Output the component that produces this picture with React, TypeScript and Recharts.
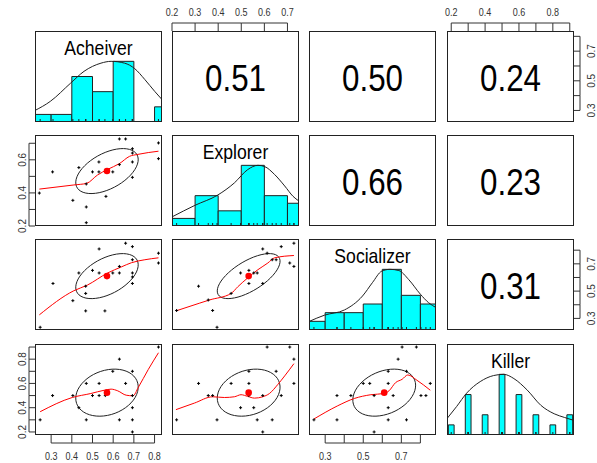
import React from 'react';
import { ComposedChart, XAxis, YAxis, Scatter, Line, ReferenceArea } from 'recharts';

const FONT = '"Liberation Sans", Arial, sans-serif';

// variables and their plotting ranges
const NAMES = ['Acheiver', 'Explorer', 'Socializer', 'Killer'];
const RANGES: [number, number][] = [
  [0.222, 0.836],
  [0.2, 0.75],
  [0.215, 0.882],
  [0.175, 0.925],
];
const MEANS = [0.57, 0.532, 0.61, 0.524];
const SDS = [0.151, 0.136, 0.165, 0.194];

// correlations, key = `${xVar}${yVar}`
const CORR: Record<string, number> = {
  '01': 0.51,
  '02': 0.5,
  '03': 0.24,
  '12': 0.66,
  '13': 0.23,
  '23': 0.31,
};

// histogram bins
const ACH_HIST = [
  { lo: 0.2, hi: 0.3, n: 1 },
  { lo: 0.3, hi: 0.4, n: 1 },
  { lo: 0.4, hi: 0.5, n: 6 },
  { lo: 0.5, hi: 0.6, n: 4 },
  { lo: 0.6, hi: 0.7, n: 8 },
  { lo: 0.7, hi: 0.8, n: 0 },
  { lo: 0.8, hi: 0.9, n: 2 },
];
const EXP_HIST = [
  { lo: 0.2, hi: 0.3, n: 1 },
  { lo: 0.3, hi: 0.4, n: 4 },
  { lo: 0.4, hi: 0.5, n: 2 },
  { lo: 0.5, hi: 0.6, n: 8 },
  { lo: 0.6, hi: 0.7, n: 4 },
  { lo: 0.7, hi: 0.8, n: 3 },
];
const SOC_HIST = [
  { lo: 0.2, hi: 0.3, n: 1 },
  { lo: 0.3, hi: 0.4, n: 2 },
  { lo: 0.4, hi: 0.5, n: 2 },
  { lo: 0.5, hi: 0.6, n: 3 },
  { lo: 0.6, hi: 0.7, n: 7 },
  { lo: 0.7, hi: 0.8, n: 4 },
  { lo: 0.8, hi: 0.9, n: 3 },
];
const KIL_HIST = [
  { lo: 0.183, hi: 0.217, n: 1 },
  { lo: 0.283, hi: 0.317, n: 4 },
  { lo: 0.383, hi: 0.417, n: 2 },
  { lo: 0.483, hi: 0.517, n: 6 },
  { lo: 0.583, hi: 0.617, n: 4 },
  { lo: 0.683, hi: 0.717, n: 2 },
  { lo: 0.783, hi: 0.817, n: 1 },
  { lo: 0.883, hi: 0.917, n: 2 },
];

// density curves (scaled to max 1)
const ACH_DENS = [
  { x: 0.222, y: 0.19 }, { x: 0.296, y: 0.34 }, { x: 0.394, y: 0.64 }, { x: 0.459, y: 0.835 },
  { x: 0.541, y: 0.97 }, { x: 0.59, y: 1.0 }, { x: 0.655, y: 0.97 }, { x: 0.704, y: 0.88 },
  { x: 0.753, y: 0.7 }, { x: 0.802, y: 0.5 }, { x: 0.836, y: 0.37 },
];
const EXP_DENS = [
  { x: 0.2, y: 0.15 }, { x: 0.299, y: 0.34 }, { x: 0.398, y: 0.51 }, { x: 0.47, y: 0.71 },
  { x: 0.528, y: 0.93 }, { x: 0.572, y: 1.0 }, { x: 0.601, y: 0.98 }, { x: 0.644, y: 0.85 },
  { x: 0.688, y: 0.66 }, { x: 0.724, y: 0.49 }, { x: 0.75, y: 0.41 },
];
const SOC_DENS = [
  { x: 0.215, y: 0.14 }, { x: 0.297, y: 0.245 }, { x: 0.401, y: 0.33 }, { x: 0.496, y: 0.56 },
  { x: 0.548, y: 0.78 }, { x: 0.597, y: 0.97 }, { x: 0.64, y: 1.0 }, { x: 0.687, y: 0.98 },
  { x: 0.739, y: 0.83 }, { x: 0.8, y: 0.59 }, { x: 0.843, y: 0.45 }, { x: 0.882, y: 0.37 },
];
const KIL_DENS = [
  { x: 0.175, y: 0.27 }, { x: 0.232, y: 0.47 }, { x: 0.291, y: 0.69 }, { x: 0.371, y: 0.88 },
  { x: 0.45, y: 0.98 }, { x: 0.51, y: 1.0 }, { x: 0.57, y: 0.93 }, { x: 0.649, y: 0.74 },
  { x: 0.729, y: 0.49 }, { x: 0.808, y: 0.35 }, { x: 0.868, y: 0.29 }, { x: 0.925, y: 0.24 },
];

// scatter points, x var first
const ACH_EXP = [
  { x: 0.243, y: 0.399 }, { x: 0.307, y: 0.527 }, { x: 0.405, y: 0.355 }, { x: 0.434, y: 0.553 },
  { x: 0.47, y: 0.315 }, { x: 0.47, y: 0.22 }, { x: 0.47, y: 0.454 }, { x: 0.5, y: 0.527 },
  { x: 0.531, y: 0.587 }, { x: 0.531, y: 0.527 }, { x: 0.565, y: 0.379 }, { x: 0.598, y: 0.527 },
  { x: 0.63, y: 0.571 }, { x: 0.63, y: 0.726 }, { x: 0.66, y: 0.726 }, { x: 0.693, y: 0.667 },
  { x: 0.693, y: 0.641 }, { x: 0.693, y: 0.587 }, { x: 0.693, y: 0.494 }, { x: 0.819, y: 0.702 },
  { x: 0.819, y: 0.607 },
];
const ACH_SOC = [
  { x: 0.247, y: 0.235 }, { x: 0.309, y: 0.556 }, { x: 0.405, y: 0.43 }, { x: 0.434, y: 0.633 },
  { x: 0.467, y: 0.536 }, { x: 0.467, y: 0.483 }, { x: 0.467, y: 0.355 }, { x: 0.5, y: 0.652 },
  { x: 0.532, y: 0.809 }, { x: 0.532, y: 0.633 }, { x: 0.56, y: 0.355 }, { x: 0.598, y: 0.633 },
  { x: 0.63, y: 0.681 }, { x: 0.63, y: 0.633 }, { x: 0.66, y: 0.851 }, { x: 0.693, y: 0.826 },
  { x: 0.693, y: 0.73 }, { x: 0.693, y: 0.633 }, { x: 0.693, y: 0.604 }, { x: 0.693, y: 0.556 },
  { x: 0.819, y: 0.778 }, { x: 0.819, y: 0.706 },
];
const ACH_KIL = [
  { x: 0.247, y: 0.3 }, { x: 0.307, y: 0.5 }, { x: 0.405, y: 0.5 }, { x: 0.434, y: 0.4 },
  { x: 0.47, y: 0.6 }, { x: 0.47, y: 0.3 }, { x: 0.5, y: 0.5 }, { x: 0.532, y: 0.6 },
  { x: 0.532, y: 0.5 }, { x: 0.562, y: 0.5 }, { x: 0.598, y: 0.7 }, { x: 0.63, y: 0.8 },
  { x: 0.63, y: 0.3 }, { x: 0.66, y: 0.6 }, { x: 0.693, y: 0.7 }, { x: 0.693, y: 0.5 },
  { x: 0.693, y: 0.4 }, { x: 0.693, y: 0.3 }, { x: 0.693, y: 0.2 }, { x: 0.819, y: 0.9 },
];
const EXP_SOC = [
  { x: 0.22, y: 0.358 }, { x: 0.315, y: 0.536 }, { x: 0.357, y: 0.435 }, { x: 0.376, y: 0.358 },
  { x: 0.395, y: 0.235 }, { x: 0.456, y: 0.483 }, { x: 0.497, y: 0.633 }, { x: 0.533, y: 0.652 },
  { x: 0.533, y: 0.556 }, { x: 0.554, y: 0.633 }, { x: 0.569, y: 0.633 }, { x: 0.593, y: 0.809 },
  { x: 0.593, y: 0.556 }, { x: 0.612, y: 0.778 }, { x: 0.634, y: 0.73 }, { x: 0.651, y: 0.73 },
  { x: 0.673, y: 0.826 }, { x: 0.71, y: 0.706 }, { x: 0.728, y: 0.851 }, { x: 0.728, y: 0.681 },
];
const EXP_KIL = [
  { x: 0.22, y: 0.3 }, { x: 0.315, y: 0.6 }, { x: 0.357, y: 0.5 }, { x: 0.376, y: 0.5 },
  { x: 0.395, y: 0.3 }, { x: 0.456, y: 0.6 }, { x: 0.497, y: 0.4 }, { x: 0.533, y: 0.7 },
  { x: 0.533, y: 0.6 }, { x: 0.533, y: 0.5 }, { x: 0.554, y: 0.4 }, { x: 0.569, y: 0.3 },
  { x: 0.593, y: 0.5 }, { x: 0.593, y: 0.2 }, { x: 0.612, y: 0.9 }, { x: 0.634, y: 0.3 },
  { x: 0.651, y: 0.7 }, { x: 0.673, y: 0.5 }, { x: 0.71, y: 0.9 }, { x: 0.728, y: 0.8 },
  { x: 0.728, y: 0.6 },
];
const SOC_KIL = [
  { x: 0.241, y: 0.3 }, { x: 0.362, y: 0.5 }, { x: 0.362, y: 0.3 }, { x: 0.435, y: 0.5 },
  { x: 0.5, y: 0.6 }, { x: 0.534, y: 0.6 }, { x: 0.557, y: 0.5 }, { x: 0.557, y: 0.2 },
  { x: 0.631, y: 0.7 }, { x: 0.631, y: 0.6 }, { x: 0.631, y: 0.4 }, { x: 0.631, y: 0.3 },
  { x: 0.657, y: 0.5 }, { x: 0.683, y: 0.8 }, { x: 0.704, y: 0.9 }, { x: 0.727, y: 0.7 },
  { x: 0.727, y: 0.3 }, { x: 0.779, y: 0.9 }, { x: 0.803, y: 0.5 }, { x: 0.829, y: 0.5 },
  { x: 0.852, y: 0.6 },
];

// loess fits
const ACH_EXP_FIT = [
  { x: 0.243, y: 0.423 }, { x: 0.41, y: 0.448 }, { x: 0.472, y: 0.458 }, { x: 0.524, y: 0.508 },
  { x: 0.573, y: 0.542 }, { x: 0.63, y: 0.577 }, { x: 0.679, y: 0.621 }, { x: 0.72, y: 0.633 },
  { x: 0.819, y: 0.652 },
];
const ACH_SOC_FIT = [
  { x: 0.243, y: 0.326 }, { x: 0.41, y: 0.503 }, { x: 0.475, y: 0.544 }, { x: 0.573, y: 0.633 },
  { x: 0.639, y: 0.677 }, { x: 0.688, y: 0.708 }, { x: 0.753, y: 0.73 }, { x: 0.819, y: 0.744 },
];
const ACH_KIL_FIT = [
  { x: 0.247, y: 0.367 }, { x: 0.402, y: 0.484 }, { x: 0.492, y: 0.517 }, { x: 0.557, y: 0.544 },
  { x: 0.59, y: 0.553 }, { x: 0.622, y: 0.539 }, { x: 0.663, y: 0.503 }, { x: 0.696, y: 0.498 },
  { x: 0.721, y: 0.566 }, { x: 0.77, y: 0.716 }, { x: 0.819, y: 0.853 },
];
const EXP_SOC_FIT = [
  { x: 0.217, y: 0.355 }, { x: 0.318, y: 0.411 }, { x: 0.362, y: 0.435 }, { x: 0.456, y: 0.483 },
  { x: 0.485, y: 0.532 }, { x: 0.528, y: 0.597 }, { x: 0.572, y: 0.657 }, { x: 0.615, y: 0.706 },
  { x: 0.644, y: 0.744 }, { x: 0.728, y: 0.761 },
];
const EXP_KIL_FIT = [
  { x: 0.217, y: 0.384 }, { x: 0.297, y: 0.438 }, { x: 0.376, y: 0.49 }, { x: 0.427, y: 0.484 },
  { x: 0.47, y: 0.49 }, { x: 0.499, y: 0.507 }, { x: 0.528, y: 0.493 }, { x: 0.557, y: 0.479 },
  { x: 0.593, y: 0.49 }, { x: 0.622, y: 0.517 }, { x: 0.659, y: 0.593 }, { x: 0.688, y: 0.662 },
  { x: 0.728, y: 0.763 },
];
const SOC_KIL_FIT = [
  { x: 0.241, y: 0.307 }, { x: 0.366, y: 0.416 }, { x: 0.453, y: 0.476 }, { x: 0.54, y: 0.507 },
  { x: 0.609, y: 0.517 }, { x: 0.635, y: 0.539 }, { x: 0.67, y: 0.607 }, { x: 0.704, y: 0.634 },
  { x: 0.734, y: 0.67 }, { x: 0.782, y: 0.626 }, { x: 0.852, y: 0.544 },
];

const HISTS = [ACH_HIST, EXP_HIST, SOC_HIST, KIL_HIST];
const DENS = [ACH_DENS, EXP_DENS, SOC_DENS, KIL_DENS];
const POINTS: Record<string, { x: number; y: number }[]> = {
  '01': ACH_EXP, '02': ACH_SOC, '03': ACH_KIL, '12': EXP_SOC, '13': EXP_KIL, '23': SOC_KIL,
};
const FITS: Record<string, { x: number; y: number }[]> = {
  '01': ACH_EXP_FIT, '02': ACH_SOC_FIT, '03': ACH_KIL_FIT,
  '12': EXP_SOC_FIT, '13': EXP_KIL_FIT, '23': SOC_KIL_FIT,
};
const RUGS = [
  ACH_SOC.map((p) => p.x),
  EXP_KIL.map((p) => p.x),
  SOC_KIL.map((p) => p.x),
  SOC_KIL.map((p) => p.y),
];

type Side = 'top' | 'bottom' | 'left' | 'right';
const AXES: { row: number; col: number; side: Side; ticks: number[]; labels: number[] }[] = [
  { row: 0, col: 1, side: 'top', ticks: [0.2, 0.3, 0.4, 0.5, 0.6, 0.7], labels: [0.2, 0.3, 0.4, 0.5, 0.6, 0.7] },
  { row: 0, col: 3, side: 'top', ticks: [0.2, 0.3, 0.4, 0.5, 0.6, 0.7, 0.8, 0.9], labels: [0.2, 0.4, 0.6, 0.8] },
  { row: 0, col: 3, side: 'right', ticks: [0.3, 0.4, 0.5, 0.6, 0.7, 0.8], labels: [0.3, 0.5, 0.7] },
  { row: 1, col: 0, side: 'left', ticks: [0.2, 0.3, 0.4, 0.5, 0.6, 0.7], labels: [0.2, 0.4, 0.6] },
  { row: 2, col: 3, side: 'right', ticks: [0.3, 0.4, 0.5, 0.6, 0.7, 0.8], labels: [0.3, 0.5, 0.7] },
  { row: 3, col: 0, side: 'left', ticks: [0.2, 0.3, 0.4, 0.5, 0.6, 0.7, 0.8, 0.9], labels: [0.2, 0.4, 0.6, 0.8] },
  { row: 3, col: 0, side: 'bottom', ticks: [0.3, 0.4, 0.5, 0.6, 0.7, 0.8], labels: [0.3, 0.4, 0.5, 0.6, 0.7, 0.8] },
  { row: 3, col: 2, side: 'bottom', ticks: [0.3, 0.4, 0.5, 0.6, 0.7, 0.8], labels: [0.3, 0.5, 0.7] },
];

// layout
const LEFT = [35, 172, 309, 447];
const TOP = [31, 135, 239, 344];
const W = 127;
const H = 91;
const PAD = 10; // room so edge labels are not clipped
const AXIS_SIZE = { top: 31, bottom: 28, left: 35, right: 23 };
const TICK_COLOR = '#333';

function ellipse(mx: number, my: number, sx: number, sy: number, r: number) {
  const th = 1 / Math.sqrt(2);
  const a = Math.sqrt(1 + r);
  const b = Math.sqrt(1 - r);
  const pts = [];
  for (let i = 0; i <= 51; i++) {
    const t = (i * 2 * Math.PI) / 51;
    pts.push({
      x: mx + sx * th * (a * Math.cos(t) - b * Math.sin(t)),
      y: my + sy * th * (a * Math.cos(t) + b * Math.sin(t)),
    });
  }
  return pts;
}

function axisTick(side: Side, ticks: number[], labels: number[], edge: number, ppu: number) {
  return (props: any) => {
    const v = props.payload.value;
    const c = props.payload.coordinate;
    const i = ticks.indexOf(v);
    const hasNext = i >= 0 && i < ticks.length - 1;
    const step = hasNext ? (ticks[i + 1] - v) * ppu : 0;
    const show = labels.includes(v);
    const label = Number(v).toFixed(1);
    if (side === 'top' || side === 'bottom') {
      const dir = side === 'top' ? -1 : 1;
      const ly = edge + dir * 8;
      const ty = side === 'top' ? edge - 15.5 : edge + 25;
      return (
        <g>
          <line x1={c} x2={c} y1={edge} y2={ly} stroke={TICK_COLOR} />
          {hasNext && <line x1={c} x2={c + step} y1={ly} y2={ly} stroke={TICK_COLOR} />}
          {show && (
            <text transform={`translate(${c},${ty}) scale(0.9,1)`} textAnchor="middle"
              fontSize={10} fill={TICK_COLOR} fontFamily={FONT}>{label}</text>
          )}
        </g>
      );
    }
    const dir = side === 'left' ? -1 : 1;
    const lx = edge + dir * 6;
    const tx = side === 'left' ? edge - 8.9 : edge + 21.1;
    return (
      <g>
        <line x1={edge} x2={lx} y1={c} y2={c} stroke={TICK_COLOR} />
        {hasNext && <line x1={lx} x2={lx} y1={c} y2={c - step} stroke={TICK_COLOR} />}
        {show && (
          <text transform={`translate(${tx},${c}) rotate(-90)`} textAnchor="middle"
            fontSize={10} fill={TICK_COLOR} fontFamily={FONT}>{label}</text>
        )}
      </g>
    );
  };
}

const plus = (p: any) => (
  <g>
    <line x1={p.cx - 1.5} x2={p.cx + 1.5} y1={p.cy} y2={p.cy} stroke="#000" />
    <line x1={p.cx} x2={p.cx} y1={p.cy - 1.5} y2={p.cy + 1.5} stroke="#000" />
  </g>
);

const rugTick = (p: any) => (
  <line x1={p.cx} x2={p.cx} y1={p.cy} y2={p.cy - 3} stroke="#222" />
);

function PanelChart({ r, c }: { r: number; c: number }) {
  const axes = AXES.filter((a) => a.row === r && a.col === c);
  const find = (s: Side) => axes.find((a) => a.side === s);
  const top = find('top');
  const bottom = find('bottom');
  const left = find('left');
  const right = find('right');
  const ml = left ? AXIS_SIZE.left : 0;
  const mr = right ? AXIS_SIZE.right : 0;
  const mt = top ? AXIS_SIZE.top : 0;
  const mb = bottom ? AXIS_SIZE.bottom : 0;
  const xDom = RANGES[c];
  const yDom: [number, number] = r === c ? [0, 1.5] : RANGES[r];
  const xAx = top || bottom;
  const yAx = left || right;
  const xPpu = W / (xDom[1] - xDom[0]);
  const yPpu = H / (yDom[1] - yDom[0]);
  const xMid = (xDom[0] + xDom[1]) / 2;

  const items: React.ReactNode[] = [];
  if (r === c) {
    const hist = HISTS[r];
    const maxN = Math.max(...hist.map((b) => b.n));
    hist.forEach((b, i) => {
      if (b.n === 0) return;
      items.push(
        <ReferenceArea key={`bar${i}`} x1={b.lo} x2={b.hi} y1={0} y2={b.n / maxN}
          fill="#00FFFF" fillOpacity={1} stroke="#222" strokeWidth={1} ifOverflow="hidden" />
      );
    });
    items.push(
      <Line key="dens" data={DENS[r]} dataKey="y" type="monotone" stroke="#222" strokeWidth={1}
        dot={false} isAnimationActive={false} />
    );
    items.push(
      <Scatter key="rug" data={RUGS[r].map((v) => ({ x: v, y: 0 }))} shape={rugTick}
        isAnimationActive={false} />
    );
    items.push(
      <Scatter key="name" data={[{ x: xMid, y: 1.5 }]} isAnimationActive={false}
        shape={(p: any) => (
          <text transform={`translate(${p.cx},${p.cy + 24}) scale(0.88,1)`} textAnchor="middle"
            fontSize={20} fill="#000" fontFamily={FONT}>{NAMES[r]}</text>
        )} />
    );
  } else if (r < c) {
    const val = CORR[`${r}${c}`];
    const yMid = (yDom[0] + yDom[1]) / 2;
    items.push(
      <Scatter key="corr" data={[{ x: xMid, y: yMid }]} isAnimationActive={false}
        shape={(p: any) => (
          <text transform={`translate(${p.cx},${p.cy + 14}) scale(0.87,1)`} textAnchor="middle"
            fontSize={36} fill="#000" fontFamily={FONT}>{val.toFixed(2)}</text>
        )} />
    );
  } else {
    const key = `${c}${r}`;
    items.push(
      <Scatter key="pts" data={POINTS[key]} shape={plus} isAnimationActive={false} />
    );
    items.push(
      <Line key="ell" data={ellipse(MEANS[c], MEANS[r], SDS[c], SDS[r], CORR[key])} dataKey="y"
        type="linear" stroke="#222" strokeWidth={1} dot={false} isAnimationActive={false} />
    );
    items.push(
      <Line key="fit" data={FITS[key]} dataKey="y" type="monotone" stroke="#FF0000" strokeWidth={1}
        dot={false} isAnimationActive={false} />
    );
    items.push(
      <Scatter key="mean" data={[{ x: MEANS[c], y: MEANS[r] }]} isAnimationActive={false}
        shape={(p: any) => <circle cx={p.cx} cy={p.cy} r={3.3} fill="#FF0000" />} />
    );
  }

  return (
    <div style={{ position: 'absolute', left: LEFT[c] - ml - PAD, top: TOP[r] - mt - PAD }}>
      <ComposedChart width={W + ml + mr + 2 * PAD} height={H + mt + mb + 2 * PAD}
        margin={{ top: PAD, right: PAD, bottom: PAD, left: PAD }}>
        {xAx ? (
          <XAxis type="number" dataKey="x" domain={xDom} allowDataOverflow orientation={xAx.side as any}
            height={xAx.side === 'top' ? AXIS_SIZE.top : AXIS_SIZE.bottom} ticks={xAx.ticks} interval={0}
            tickLine={false} axisLine={false}
            tick={axisTick(xAx.side, xAx.ticks, xAx.labels, xAx.side === 'top' ? PAD + mt : PAD + mt + H, xPpu)} />
        ) : (
          <XAxis type="number" dataKey="x" domain={xDom} allowDataOverflow hide />
        )}
        {yAx ? (
          <YAxis type="number" dataKey="y" domain={yDom} allowDataOverflow orientation={yAx.side as any}
            width={yAx.side === 'left' ? AXIS_SIZE.left : AXIS_SIZE.right} ticks={yAx.ticks} interval={0}
            tickLine={false} axisLine={false}
            tick={axisTick(yAx.side, yAx.ticks, yAx.labels, yAx.side === 'left' ? PAD + ml : PAD + ml + W, yPpu)} />
        ) : (
          <YAxis type="number" dataKey="y" domain={yDom} allowDataOverflow hide />
        )}
        {items}
      </ComposedChart>
    </div>
  );
}

export default function App() {
  const cells: React.ReactNode[] = [];
  const boxes: React.ReactNode[] = [];
  for (let r = 0; r < 4; r++) {
    for (let c = 0; c < 4; c++) {
      cells.push(<PanelChart key={`p${r}${c}`} r={r} c={c} />);
      boxes.push(
        <div key={`b${r}${c}`} style={{
          position: 'absolute', left: LEFT[c], top: TOP[r], width: W, height: H,
          border: '1px solid #222', boxSizing: 'border-box', pointerEvents: 'none',
        }} />
      );
    }
  }
  return (
    <div style={{ position: 'absolute', left: 0, top: 0, width: 597, height: 463, background: '#fff', overflow: 'hidden' }}>
      {cells}
      {boxes}
    </div>
  );
}
